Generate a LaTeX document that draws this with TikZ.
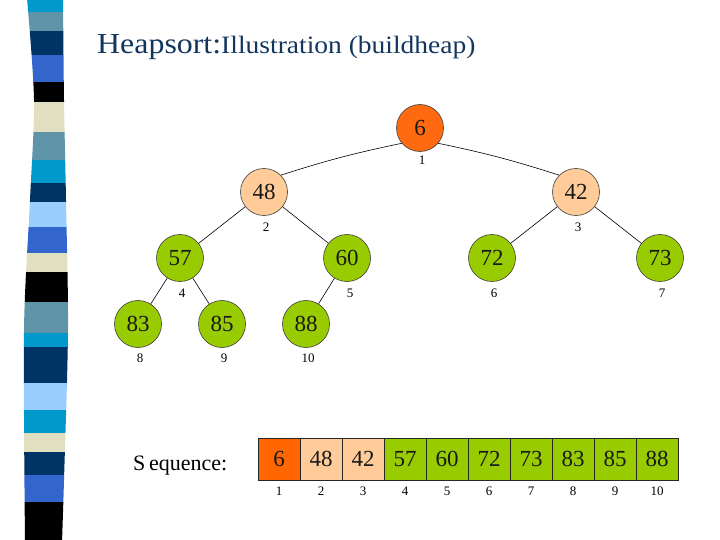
\documentclass[tikz,border=0pt]{standalone}
\usepackage{fontspec}
\usepackage{graphicx}
\setmainfont{Liberation Serif}
\definecolor{titleblue}{HTML}{12365E}
\definecolor{orangeA}{HTML}{FF6A10}
\definecolor{orangeB}{HTML}{FF6600}
\definecolor{peach}{HTML}{FFCC99}
\definecolor{greenA}{HTML}{99CC00}
\definecolor{stCyan}{HTML}{0099CC}
\definecolor{stSteel}{HTML}{5E93A8}
\definecolor{stNavy}{HTML}{003366}
\definecolor{stBlue}{HTML}{3366CC}
\definecolor{stBeige}{HTML}{E0E0C0}
\definecolor{stLight}{HTML}{99CCFF}
\tikzset{
  hnode/.style={circle, draw=black!75, line width=0.6pt, minimum size=47pt, inner sep=0pt,
    font=\fontsize{23}{25}\selectfont, text=black!90},
  idx/.style={inner sep=0pt, font=\fontsize{13}{14}\selectfont},
  cell/.style={draw=black!85, line width=0.6pt, minimum width=42pt, minimum height=42pt, inner sep=0pt,
    font=\fontsize{23}{25}\selectfont, text=black!90},
  edge/.style={line width=0.6pt, black}
}
\begin{document}
\begin{tikzpicture}[x=1pt,y=-1pt]
\useasboundingbox (0,0) rectangle (720,540);
% decorative stripe
\begin{scope}
\clip plot[smooth] coordinates {(27,-2) (34,100) (30,200) (24,330) (25,542)}
  -- plot[smooth] coordinates {(62,542) (64,480) (68,330) (66,200) (64,100) (63,-2)} -- cycle;
\foreach \ya/\yb/\c in {-2/12/stCyan, 12/31/stSteel, 31/55/stNavy, 55/82/stBlue, 82/102/black,
  102/132/stBeige, 132/160/stSteel, 160/183/stCyan, 183/202/stNavy, 202/227/stLight,
  227/253/stBlue, 253/272/stBeige, 272/302/black, 302/333/stSteel, 333/347/stCyan,
  347/383/stNavy, 383/410/stLight, 410/433/stCyan, 433/452/stBeige, 452/475/stNavy,
  475/502/stBlue, 502/542/black}
  \fill[\c] (0,\ya) rectangle (80,\yb);
\end{scope}
% title
\node[anchor=base west, inner sep=0pt, text=titleblue] (title) at (97,54)
  {\scalebox{1.1}[1]{\fontsize{29}{31}\selectfont Heapsort:}\scalebox{1.1}[1]{\fontsize{25}{27}\selectfont Illustration (buildheap)}};
% tree nodes
\node[hnode, fill=orangeA] (n1) at (420,128) {6};
\node[hnode, fill=peach] (n2) at (264,192) {48};
\node[hnode, fill=peach] (n3) at (576,192) {42};
\node[hnode, fill=greenA] (n4) at (180,258) {57};
\node[hnode, fill=greenA] (n5) at (347,258) {60};
\node[hnode, fill=greenA] (n6) at (492,258) {72};
\node[hnode, fill=greenA] (n7) at (660,258) {73};
\node[hnode, fill=greenA] (n8) at (138,324) {83};
\node[hnode, fill=greenA] (n9) at (222,324) {85};
\node[hnode, fill=greenA] (n10) at (306,324) {88};
% index labels
\node[idx] (l1) at (422,160) {1};
\node[idx] (l2) at (266,227) {2};
\node[idx] (l3) at (578,227) {3};
\node[idx] (l4) at (182,293) {4};
\node[idx] (l5) at (350,293) {5};
\node[idx] (l6) at (494,293) {6};
\node[idx] (l7) at (662,293) {7};
\node[idx] (l8) at (140,358) {8};
\node[idx] (l9) at (224,358) {9};
\node[idx] (l10) at (308,358) {10};
% edges
\draw[edge] (n1.220) to[bend right=3] (n2.45);
\draw[edge] (n1.320) to[bend left=3] (n3.135);
\draw[edge] (n2) -- (n4);
\draw[edge] (n2) -- (n5);
\draw[edge] (n3) -- (n6);
\draw[edge] (n3) -- (n7);
\draw[edge] (n4) -- (n8);
\draw[edge] (n4) -- (n9);
\draw[edge] (n5) -- (n10);
% sequence
\node[anchor=base west, inner sep=0pt, font=\fontsize{22}{24}\selectfont] (seqlabel) at (133,470) {S\,equence:};
\foreach \v/\c [count=\i] in {6/orangeB, 48/peach, 42/peach, 57/greenA, 60/greenA,
  72/greenA, 73/greenA, 83/greenA, 85/greenA, 88/greenA} {
  \node[cell, fill=\c] (c\i) at ({258+21+42*(\i-1)},459) {\v};
  \node[idx] (ci\i) at ({258+21+42*(\i-1)},491) {\i};
}
\end{tikzpicture}
\end{document}
